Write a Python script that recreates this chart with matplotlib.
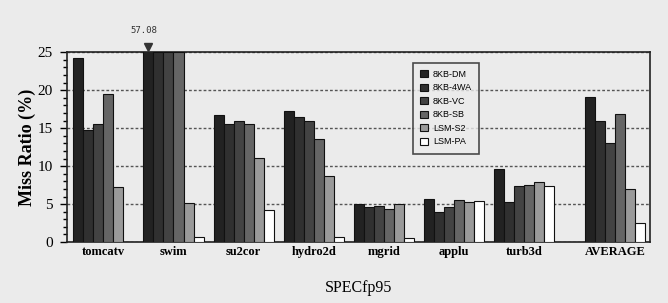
import matplotlib
matplotlib.use("Agg")
import matplotlib.pyplot as plt
from matplotlib.ticker import MultipleLocator
import numpy as np

# benchmark names and x slots (AVERAGE sits a bit further right)
benchmarks = ["tomcatv", "swim", "su2cor", "hydro2d", "mgrid", "applu", "turb3d", "AVERAGE"]
slots = [0, 1, 2, 3, 4, 5, 6, 7.29]

series = ["8KB-DM", "8KB-4WA", "8KB-VC", "8KB-SB", "LSM-S2", "LSM-PA"]
colors = ["#222222", "#303030", "#434343", "#656565", "#9a9a9a", "#ffffff"]

# miss ratio (%) per series, one value per benchmark
dm  = [24.2, 57.08, 16.7, 17.3, 5.0, 5.7, 9.6, 19.1]
wa4 = [14.7, 25.0, 15.6, 16.5, 4.6, 4.0, 5.3, 16.0]
vc  = [15.6, 25.0, 15.9, 16.0, 4.8, 4.6, 7.4, 13.0]
sb  = [19.5, 25.0, 15.6, 13.6, 4.3, 5.5, 7.5, 16.8]
s2  = [7.3, 5.2, 11.1, 8.7, 5.0, 5.3, 7.9, 7.0]
pa  = [0.0, 0.7, 4.2, 0.7, 0.5, 5.4, 7.4, 2.5]
values = [dm, wa4, vc, sb, s2, pa]

paper = "#ebebeb"
serif = "Liberation Serif"

fig = plt.figure(figsize=(6.68, 3.03), dpi=100, facecolor=paper)
ax = fig.add_axes([0.100, 0.201, 0.873, 0.627])
ax.set_facecolor(paper)

w = 0.143
x = np.array(slots)
for i, (name, vals) in enumerate(zip(series, values)):
    ax.bar(x + (i - 2.5) * w, vals, width=w, color=colors[i], edgecolor="#111111",
           linewidth=0.8, label=name, zorder=3)

# swim 8KB-DM goes off the scale: marker plus value
ax.plot(x[1] - 2.5 * w, 25.7, marker="v", color="#333333", markersize=6, clip_on=False, zorder=5)
ax.text(x[1] - 2.5 * w - 0.06, 27.8, "57.08", fontsize=6.5, family="DejaVu Sans Mono",
        ha="center", va="center", color="#333333")

ax.set_ylim(0, 25)
ax.set_xlim(-0.52, 7.79)
ax.yaxis.set_major_locator(MultipleLocator(5))
ax.yaxis.set_minor_locator(MultipleLocator(1))
ax.tick_params(axis="y", which="major", length=5, width=1, labelsize=11, pad=5)
ax.tick_params(axis="y", which="minor", length=3, width=1)
ax.set_yticks([0, 5, 10, 15, 20, 25])
ax.set_yticklabels(["0", "5", "10", "15", "20", "25"], family=serif)

ax.set_xticks(x)
ax.set_xticklabels(benchmarks, family=serif, fontsize=9, fontweight="bold")
ax.tick_params(axis="x", length=0, pad=3)

ax.grid(axis="y", linestyle=(0, (2, 1.5)), color="#555555", linewidth=1, zorder=1)
for s in ax.spines.values():
    s.set_color("#222222")
    s.set_linewidth(1.2)

ax.set_ylabel("Miss Ratio (%)", family=serif, fontsize=13, fontweight="bold", labelpad=1)
ax.set_xlabel("SPECfp95", family=serif, fontsize=11.5, labelpad=16)

leg = ax.legend(loc="upper left", bbox_to_anchor=(0.594, 0.945), fontsize=6.5,
                frameon=True, fancybox=False, edgecolor="#222222", facecolor=paper,
                handlelength=0.8, handleheight=0.8, handletextpad=0.6,
                labelspacing=0.5, borderpad=0.8, borderaxespad=0)
leg.get_frame().set_linewidth(1.2)
for t in leg.get_texts():
    t.set_family("Liberation Sans")

fig.savefig("out.png", dpi=100, facecolor=paper)
